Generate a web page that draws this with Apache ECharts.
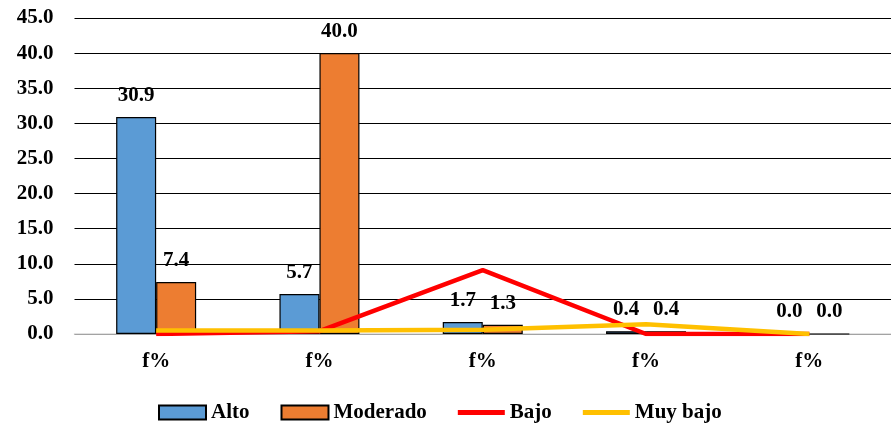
<!DOCTYPE html>
<html><head><meta charset="utf-8">
<script src="https://cdn.jsdelivr.net/npm/echarts@6/dist/echarts.min.js"></script>
<style>html,body{margin:0;padding:0;background:#fff}#c{width:891px;height:428px}</style>
</head><body><div id="c"></div>
<script>
const categories = ['f%', 'f%', 'f%', 'f%', 'f%'];
const alto = [30.9, 5.7, 1.7, 0.4, 0.0];
const moderado = [7.4, 40.0, 1.3, 0.4, 0.0];
const bajo = [0.0, 0.4, 9.1, 0.0, 0.0];
const muyBajo = [0.5, 0.5, 0.6, 1.4, 0.0];
const seriesNames = ['Alto', 'Moderado', 'Bajo', 'Muy bajo'];

const FONT = 'Liberation Serif';
const FS = 21;
const chart = echarts.init(document.getElementById('c'));
const lbl = {show: true, position: 'top', distance: 11, color: '#000', fontFamily: FONT, fontWeight: 'bold', fontSize: FS, formatter: p => p.value.toFixed(1)};
chart.setOption({
  animation: false,
  grid: {left: 74.5, right: -8.5, top: 18, bottom: 94, containLabel: false},
  legend: {
    left: 153, top: 397, itemWidth: 47, itemHeight: 14, itemGap: 31,
    symbolKeepAspect: true,
    textStyle: {fontFamily: FONT, fontWeight: 'bold', fontSize: FS, color: '#000'},
    data: [
      {name: seriesNames[0], icon: 'rect'},
      {name: seriesNames[1], icon: 'rect'},
      {name: seriesNames[2], icon: 'path://M0,0H47V5H0Z'},
      {name: seriesNames[3], icon: 'path://M0,0H47V5H0Z'}
    ]
  },
  xAxis: {
    type: 'category', data: categories,
    axisLine: {show: true, lineStyle: {color: '#d9d9d9', width: 1.5}},
    axisTick: {show: false},
    axisLabel: {margin: 17, color: '#000', fontFamily: FONT, fontWeight: 'bold', fontSize: FS}
  },
  yAxis: {
    type: 'value', min: 0, max: 45, interval: 5,
    axisLine: {show: false}, axisTick: {show: false},
    splitLine: {lineStyle: {color: '#000', width: 1.2}},
    axisLabel: {margin: 21, color: '#000', fontFamily: FONT, fontWeight: 'bold', fontSize: FS, formatter: v => v.toFixed(1)}
  },
  series: [
    {name: seriesNames[0], type: 'bar', data: alto, barWidth: 40, barGap: '0%',
     itemStyle: {color: '#5B9BD5', borderColor: '#000', borderWidth: 1.2}, label: lbl},
    {name: seriesNames[1], type: 'bar', data: moderado, barWidth: 40, barGap: '0%',
     itemStyle: {color: '#ED7D31', borderColor: '#000', borderWidth: 1.2}, label: lbl},
    {name: seriesNames[2], type: 'line', data: bajo, symbol: 'none',
     lineStyle: {color: '#FF0000', width: 4.5}, itemStyle: {color: '#FF0000'}},
    {name: seriesNames[3], type: 'line', data: muyBajo, symbol: 'none',
     lineStyle: {color: '#FFC000', width: 4.5}, itemStyle: {color: '#FFC000'}}
  ]
});
</script></body></html>
